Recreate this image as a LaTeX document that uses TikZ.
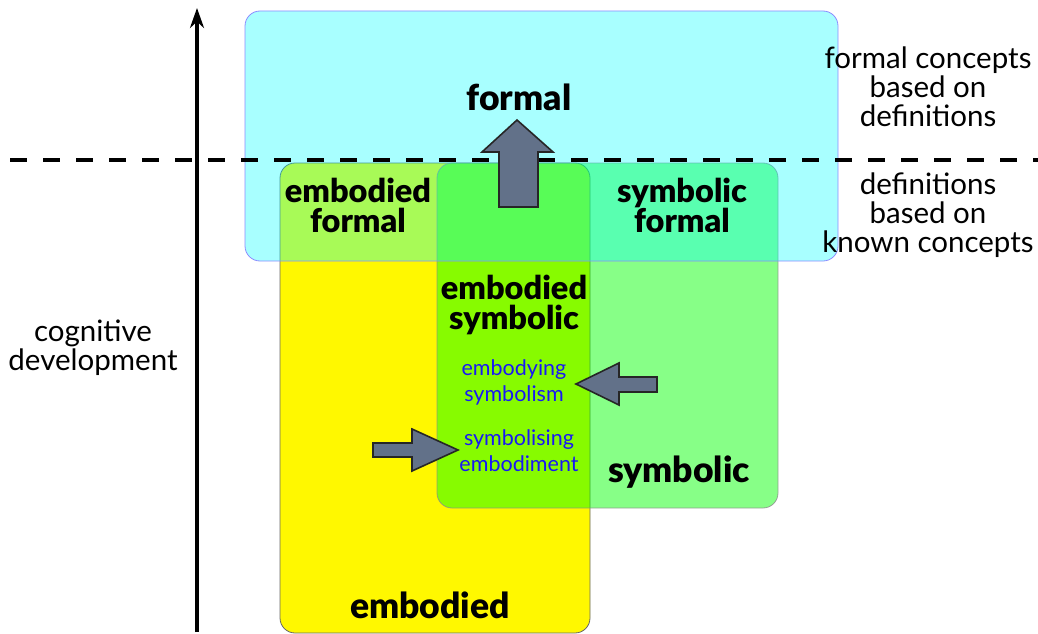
\documentclass[tikz,border=0pt]{standalone}
\usepackage{fontspec}
\setmainfont{Lato}
\newfontfamily\heavyfont{Lato Black}
\usetikzlibrary{arrows.meta}
\definecolor{boxyellow}{HTML}{FFF800}
\definecolor{boxgreen}{HTML}{00FF00}
\definecolor{boxcyan}{HTML}{00FFFF}
\definecolor{arrowgray}{HTML}{627189}
\definecolor{cyanedge}{HTML}{8C8CFF}
\definecolor{txtblue}{HTML}{1818F5}
\begin{document}
\begin{tikzpicture}[x=1pt,y=-1pt,
  region/.style={rounded corners=15pt, line width=0.8pt},
  bold lbl/.style={font=\heavyfont\fontsize{32.5}{30}\selectfont, align=center, inner sep=0pt},
  main lbl/.style={font=\heavyfont\fontsize{35.5}{30}\selectfont, align=center, inner sep=0pt},
  side note/.style={font=\fontsize{29.5}{29}\selectfont, align=center, inner sep=0pt},
  blue lbl/.style={font=\fontsize{21.5}{26}\selectfont, text=txtblue, align=center, inner sep=0pt},
  blockarrow/.style={fill=arrowgray, draw=black!85, line width=1.6pt, line join=miter},
  axisline/.style={line width=3.5pt, -{Stealth[length=20pt,width=14pt]}},
  divider/.style={line width=4.5pt, dash pattern=on 17pt off 16pt}]
\useasboundingbox (0,0) rectangle (1038,634);
% regions
\draw[region, fill=boxyellow, draw=black!60] (280,163) rectangle (590,633);
\draw[region, fill=boxgreen, fill opacity=0.47, draw=black!45, draw opacity=0.8] (437,163) rectangle (778,508);
\draw[region, fill=boxcyan, fill opacity=0.34, draw=cyanedge] (245,11) rectangle (838,261);
% axis and divider
\coordinate (axbot) at (197,632);
\coordinate (axtop) at (197,8);
\draw[axisline] (axbot) -- (axtop);
\coordinate (dl) at (10,160);
\coordinate (dr) at (1038,160);
\draw[divider] (dl) -- (dr);
% block arrows
\draw[blockarrow] (517,120) -- (553,152) -- (538,152) -- (538,207) -- (499,207) -- (499,152) -- (482,152) -- cycle;
\draw[blockarrow] (576,384) -- (619,363) -- (619,377) -- (657,377) -- (657,392) -- (619,392) -- (619,405) -- cycle;
\draw[blockarrow] (458,450) -- (412,429) -- (412,443) -- (373,443) -- (373,457) -- (412,457) -- (412,471) -- cycle;
% labels
\node[main lbl] (formal) at (519,97) {formal};
\node[bold lbl] (embformal) at (358,205) {embodied\\formal};
\node[bold lbl] (symformal) at (682,205) {symbolic\\formal};
\node[bold lbl] (embsym) at (514,305) {embodied\\symbolic};
\node[blue lbl] (embodying) at (514,382) {embodying\\symbolism};
\node[blue lbl] (symbolising) at (519,451) {symbolising\\embodiment};
\node[main lbl] (symbolic) at (679,472) {symbolic};
\node[main lbl] (embodied) at (430,605) {embodied};
\node[side note] (cogdev) at (93,348) {cognitive\\development};
\node[side note] (formaldef) at (928,87) {formal concepts\\based on\\definitions};
\node[side note] (defknown) at (928,215) {definitions\\based on\\known concepts};
\end{tikzpicture}
\end{document}
